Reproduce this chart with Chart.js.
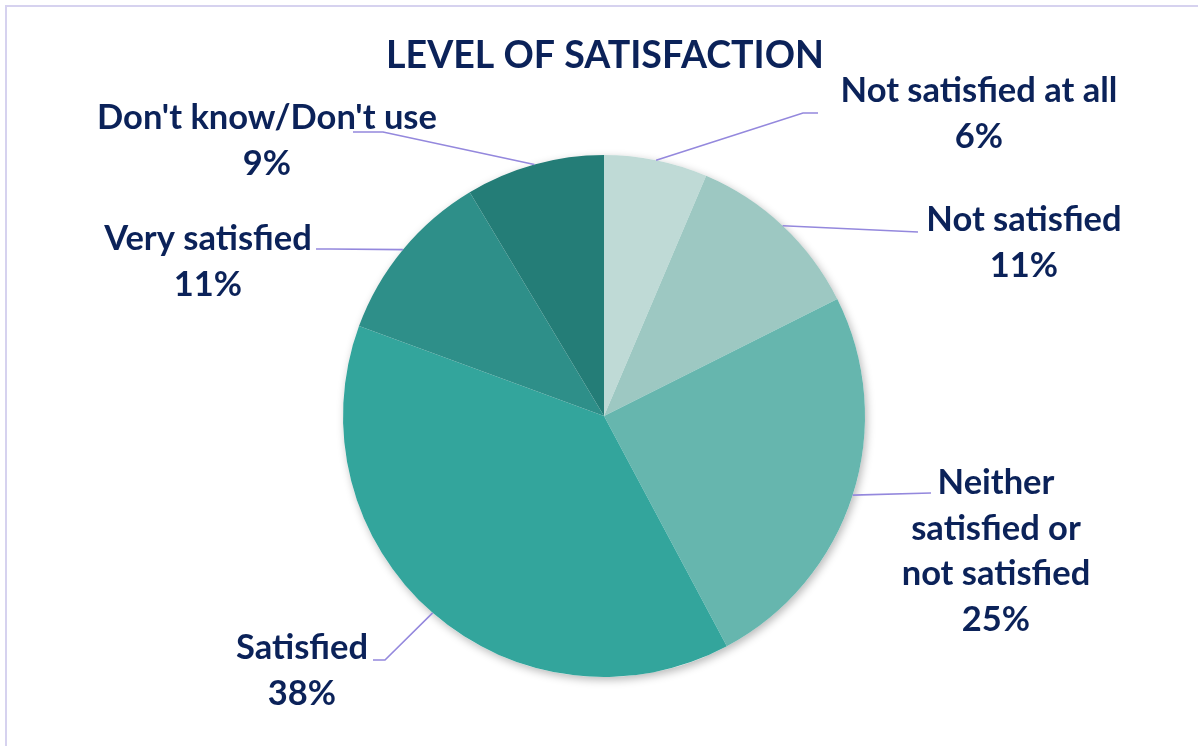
<!DOCTYPE html>
<html>
<head>
<meta charset="utf-8">
<style>
  html, body { margin: 0; padding: 0; background: #ffffff; }
  #wrap { position: relative; width: 1198px; height: 746px; }
  canvas { display: block; }
</style>
<script src="https://cdn.jsdelivr.net/npm/chart.js@4/dist/chart.umd.min.js"></script>
</head>
<body>
<div id="wrap"><canvas id="myChart" width="1198" height="746"></canvas></div>
<script>
// data (slice sizes estimated from the angles, labels show them rounded)
var categories = [
  ['Not satisfied at all'],
  ['Not satisfied'],
  ['Neither', 'satisfied or', 'not satisfied'],
  ['Satisfied'],
  ['Very satisfied'],
  ["Don't know/Don't use"]
];
var shares = [6.4, 11.2, 24.6, 38.4, 10.8, 8.6];
var sliceColors = ['#BFDAD6', '#9DC8C2', '#66B6AE', '#33A59C', '#2E8F89', '#247D77'];
var chartTitle = 'LEVEL OF SATISFACTION';

// where each label sits (text centre of the first line) and how its leader line bends
var labelLayout = [
  { x: 979,  y: 91,  elbow: [803, 113], end: [818, 113] },
  { x: 1024, y: 220, elbow: null,       end: [918, 232] },
  { x: 996,  y: 483, elbow: null,       end: [931, 493] },
  { x: 302,  y: 648, elbow: [385, 660], end: [373, 660] },
  { x: 208,  y: 239, elbow: [330, 249], end: [316, 249] },
  { x: 267,  y: 118, elbow: [383, 132], end: [353, 132] }
];

var textColor = '#0B2259';
var lineColor = '#9488DD';
var fontFamily = 'Lato, "Open Sans", sans-serif';

function fitSize(ctx, text, target, base) {
  ctx.font = 'bold ' + base + 'px ' + fontFamily;
  return base * target / ctx.measureText(text).width;
}

var decorations = {
  id: 'decorations',
  beforeDatasetsDraw: function(chart) {
    var ctx = chart.ctx;
    var arc = chart.getDatasetMeta(0).data[0];
    ctx.save();
    ctx.shadowColor = 'rgba(0,0,0,0.28)';
    ctx.shadowBlur = 9;
    ctx.shadowOffsetX = 2;
    ctx.shadowOffsetY = 3;
    ctx.fillStyle = '#ffffff';
    ctx.beginPath();
    ctx.arc(arc.x, arc.y, arc.outerRadius, 0, Math.PI * 2);
    ctx.fill();
    ctx.restore();
  },
  afterDraw: function(chart) {
    var ctx = chart.ctx;
    ctx.save();

    // outer frame
    ctx.strokeStyle = '#D6D2EF';
    ctx.lineWidth = 2;
    ctx.strokeRect(6, 6, 1300, 900);

    // title
    var ts = fitSize(ctx, chartTitle, 438, 38);
    ctx.font = 'bold ' + ts + 'px ' + fontFamily;
    ctx.fillStyle = textColor;
    ctx.textAlign = 'center';
    ctx.textBaseline = 'middle';
    ctx.fillText(chartTitle, 605, 56);

    var ls = fitSize(ctx, "Don't know/Don't use", 340, 30);
    var meta = chart.getDatasetMeta(0);
    meta.data.forEach(function(el, i) {
      var mid = (el.startAngle + el.endAngle) / 2;
      var sx = el.x + Math.cos(mid) * el.outerRadius;
      var sy = el.y + Math.sin(mid) * el.outerRadius;
      var lay = labelLayout[i];
      ctx.strokeStyle = lineColor;
      ctx.lineWidth = 1.6;
      ctx.beginPath();
      ctx.moveTo(sx, sy);
      if (lay.elbow) ctx.lineTo(lay.elbow[0], lay.elbow[1]);
      ctx.lineTo(lay.end[0], lay.end[1]);
      ctx.stroke();

      ctx.font = 'bold ' + ls + 'px ' + fontFamily;
      ctx.fillStyle = textColor;
      var lines = categories[i].concat([Math.round(shares[i]) + '%']);
      lines.forEach(function(t, k) {
        ctx.fillText(t, lay.x, lay.y + k * 45.5);
      });
    });
    ctx.restore();
  }
};

var ctx = document.getElementById('myChart').getContext('2d');
var myChart = new Chart(ctx, {
  type: 'pie',
  data: {
    labels: categories.map(function(c) { return c.join(' '); }),
    datasets: [{
      data: shares,
      backgroundColor: sliceColors,
      borderWidth: 0
    }]
  },
  options: {
    responsive: false,
    animation: false,
    layout: {
      padding: { top: 155, bottom: 69, left: 343, right: 333 }
    },
    plugins: {
      legend: { display: false },
      tooltip: { enabled: false },
      title: { display: false }
    }
  },
  plugins: [decorations]
});
</script>
</body>
</html>
